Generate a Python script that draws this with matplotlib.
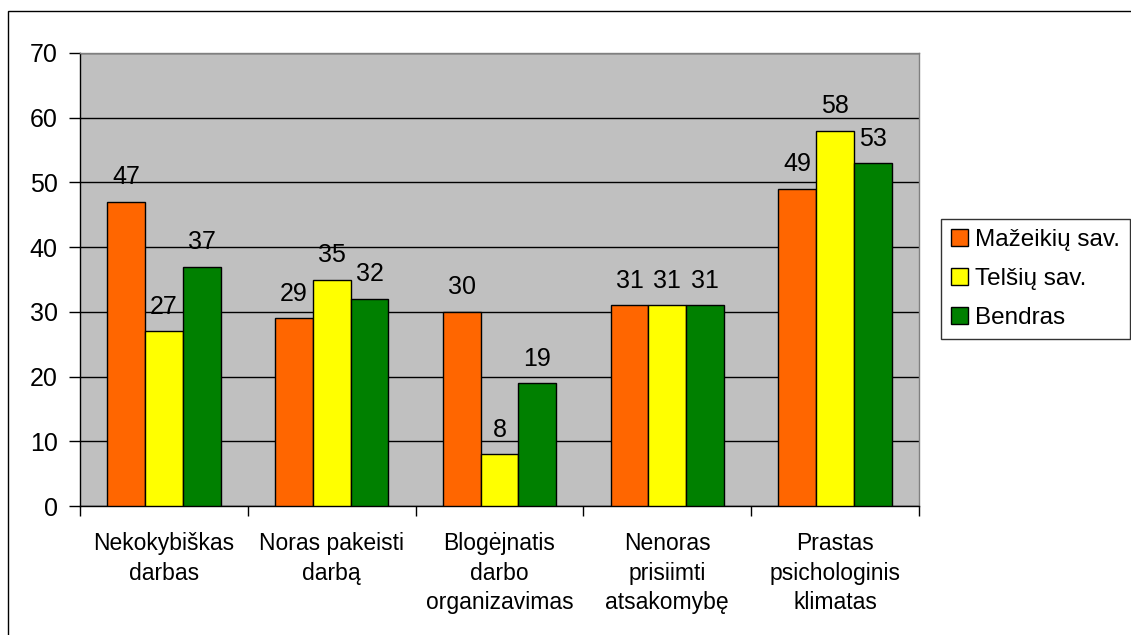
import numpy as np
import matplotlib.pyplot as plt
from matplotlib.patches import Rectangle

plt.rcParams['font.family'] = ['Liberation Sans', 'DejaVu Sans']

categories = ["Nekokybiškas\ndarbas", "Noras pakeisti\ndarbą", "Blogėjnatis\ndarbo\norganizavimas",
              "Nenoras\nprisiimti\natsakomybę", "Prastas\npsichologinis\nklimatas"]
series_names = ["Mažeikių sav.", "Telšių sav.", "Bendras"]
mazeikiai = [47, 29, 30, 31, 49]
telsiai = [27, 35, 8, 31, 58]
bendras = [37, 32, 19, 31, 53]
colors = ['#FF6600', '#FFFF00', '#008000']

fig = plt.figure(figsize=(11.31, 6.35), dpi=100)
fig.patch.set_facecolor('white')
# outer chart border
fig.patches.append(Rectangle((8 / 1131, -0.05), 1.1, (635 - 11) / 635 + 0.05, transform=fig.transFigure,
                             fill=False, edgecolor='black', linewidth=1.0))

ax = fig.add_axes([80 / 1131, (635 - 506) / 635, (919 - 80) / 1131, (506 - 53) / 635])
ax.set_facecolor('#C0C0C0')

x = np.arange(len(categories))
w = 0.225
for i, (vals, name, col) in enumerate(zip([mazeikiai, telsiai, bendras], series_names, colors)):
    pos = x + (i - 1) * w
    bars = ax.bar(pos, vals, w, color=col, edgecolor='black', linewidth=1.0, label=name, zorder=3)
    for p, v in zip(pos, vals):
        ax.annotate(str(v), (p, v), xytext=(0, 9), textcoords='offset points',
                    ha='center', va='bottom', fontsize=18, zorder=4)

ax.set_xlim(-0.5, len(categories) - 0.5)
ax.set_ylim(0, 70)
ax.set_yticks(range(0, 71, 10))
ax.yaxis.grid(True, color='black', linewidth=1.0, zorder=1)
ax.set_axisbelow(True)

ax.set_xticks(x)
ax.set_xticklabels(categories, fontsize=16.5, linespacing=1.36)
ax.tick_params(axis='x', which='major', length=0, pad=19)
ax.set_xticks(np.arange(-0.5, len(categories), 1), minor=True)
ax.tick_params(axis='x', which='minor', length=7, width=1, color='black')
ax.tick_params(axis='y', length=8, width=1, pad=8, labelsize=18)

for s in ['left', 'bottom']:
    ax.spines[s].set_color('black')
for s in ['top', 'right']:
    ax.spines[s].set_color('#808080')
for s in ax.spines.values():
    s.set_linewidth(1.0)

leg = ax.legend(loc='upper left', bbox_to_anchor=(941 / 1131, (635 - 219) / 635), bbox_transform=fig.transFigure,
                fontsize=17.5, frameon=True, fancybox=False, handlelength=0.7, handleheight=0.7,
                handletextpad=0.3, borderpad=0.4, labelspacing=0.7, borderaxespad=0)
leg.get_frame().set_edgecolor('black')
leg.get_frame().set_linewidth(1.0)

fig.savefig('out.png', dpi=100)
